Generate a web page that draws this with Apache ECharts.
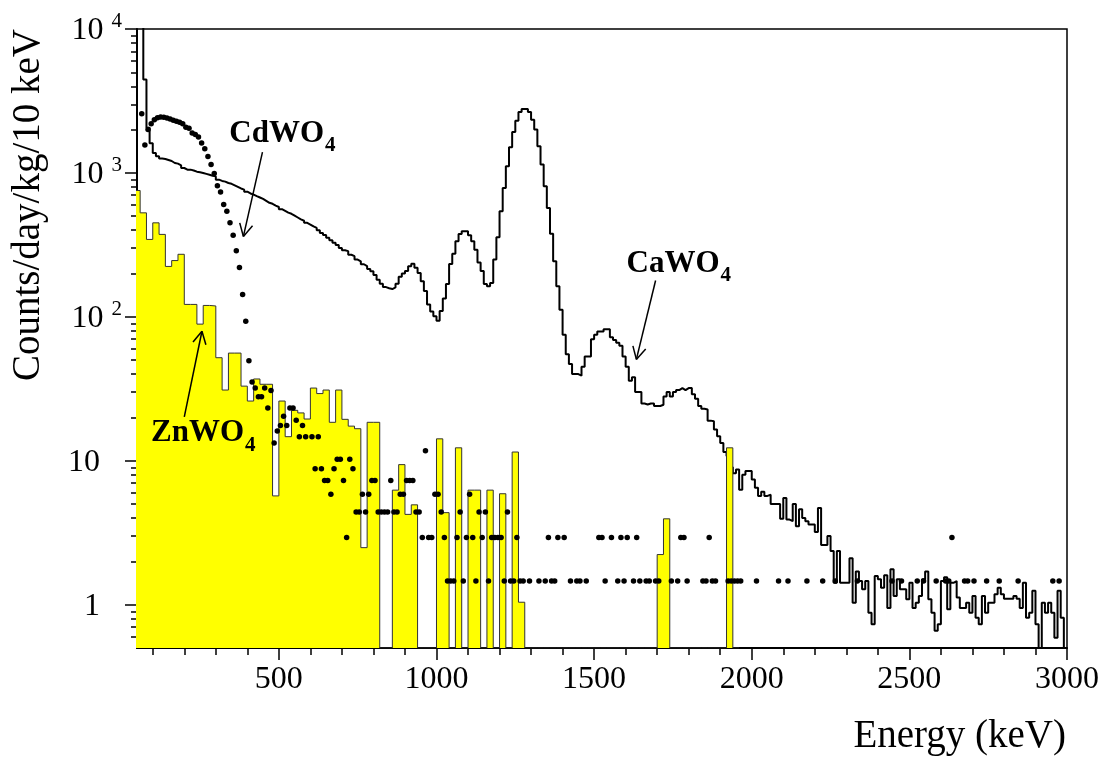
<!DOCTYPE html>
<html><head><meta charset="utf-8">
<script src="https://cdn.jsdelivr.net/npm/echarts@6/dist/echarts.min.js"></script>
<style>html,body{margin:0;padding:0;background:#fff}#c{width:1107px;height:757px}</style>
</head><body><div id="c"></div>
<script>
// ---------------- data ----------------
const xTickLabels = [500, 1000, 1500, 2000, 2500, 3000];
const yTickLabels = [1, 10, 100, 1000, 10000];
const xRange = [50, 3000];
const yRange = [0.5, 10000];

// CaWO4 histogram: 10 keV bins starting at 50 keV (counts/day/kg/10 keV)
const caBinLow = 50, caBinWidth = 10;
const caWO4 = [
  20000, 20000, 4450, 2060, 1610, 1377, 1304, 1260, 1250, 1230,
  1210, 1172, 1160, 1130, 1082, 1054, 1054, 1040, 1020, 1010,
  1000, 985, 970, 955, 946, 898, 880, 870, 851, 840,
  820, 800, 780, 765, 740, 720, 707, 690, 675, 660,
  640, 620, 610, 593, 580, 560, 545, 530, 520, 505,
  490, 475, 465, 450, 438, 425, 415, 400, 383, 370,
  354, 340, 327, 315, 301, 290, 286, 270, 264, 250,
  243, 232, 225, 215, 207, 195, 181, 170, 161, 158,
  156, 160, 170, 190, 200, 208, 225, 234, 219, 202,
  177, 151, 122, 109, 101, 94, 110, 134, 169, 233,
  274, 335, 377, 393, 393, 369, 335, 293, 239, 208,
  169, 163, 172, 250, 357, 541, 785, 1111, 1507, 1923,
  2306, 2650, 2780, 2780, 2650, 2345, 2000, 1530, 1143, 807,
  571, 378, 243, 163, 112, 75, 55, 47, 40, 40,
  39, 45, 53, 53, 70, 75, 79, 79, 82, 82,
  72, 69, 66, 63, 53, 45, 36, 38, 30, 30,
  25, 24.6, 25, 25, 24, 24, 24.5, 28, 30, 28,
  30, 31, 32, 31, 32, 32, 29, 27, 24, 23,
  22.7, 19, 18.8, 16.5, 14.8, 13.3, 11.5, 10.8, 9, 8.2,
  8.7, 6.3, 8.0, 8.5, 8.5, 7.4, 6.5, 5.7, 6.1, 5.7,
  5.8, 5.0, 5.0, 5.0, 3.95, 5.5, 3.9, 3.8, 5.0, 3.5,
  4.6, 4.0, 3.8, 3.6, 3.6, 3.2, 4.7, 2.6, 2.6, 3.0,
  2.36, 1.42, 2.36, 1.42, 1.42, 1.42, 2.1, 1.03, 1.7, 1.46,
  1.28, 1.46, 0.88, 0.73, 1.58, 1.5, 1.31, 1.6, 0.95, 1.76,
  1.15, 1.5, 1.28, 1.28, 1.09, 1.42, 0.95, 1.03, 1.15, 1.5,
  1.7, 1.09, 0.88, 0.66, 0.73, 1.46, 1.55, 0.93, 1.42, 1.46,
  1.12, 0.95, 0.95, 1.03, 0.88, 1.15, 0.81, 0.73, 1.15, 0.88,
  1.03, 1.03, 1.18, 1.31, 1.18, 1.1, 1.1, 1.1, 1.15, 1.1,
  0.95, 1.42, 0.81, 0.88, 1.25, 0.73, 0.3, 1.03, 0.88, 1.03,
  0.88, 0.59, 1.25, 0.81, 0.3
];

// ZnWO4 histogram: 20 keV bins starting at 40 keV (0 = empty bin)
const znBinLow = 40, znBinWidth = 20;
const znWO4 = [
  755, 528, 345, 450, 374, 224, 246, 272,
  122, 122, 89, 120, 119, 52, 31, 56, 56, 33,
  26, 37, 34, 34, 5.7, 26, 14.7, 22.4, 21.5, 19.5,
  32, 29.3, 31, 18.5, 31, 19.4, 17.4, 16.7, 2.49, 18.5,
  18.5, 0, 0, 6.25, 9.4, 4.24, 4.94, 0, 0, 0,
  14.2, 4.36, 0, 12.3, 0, 6.25, 6.25, 0, 6.25, 0,
  5.9, 0, 11.5, 1.04,
  0, 0, 0, 0, 0, 0, 0, 0, 0, 0, 0, 0, 0, 0, 0, 0, 0, 0, 0, 0, 0,
  2.23, 3.95,
  0, 0, 0, 0, 0, 0, 0, 0, 0,
  12.3, 0
];

// CdWO4 points (bin centre energy, counts/day/kg/10 keV)
const cdEnergy = [
  65, 75, 85, 95, 105, 115, 125, 135, 145, 155, 165, 175, 185, 195, 205, 215, 225, 235, 245, 255,
  265, 275, 285, 295, 305, 315, 325, 335, 345, 355, 365, 375, 385, 395, 405, 415, 425, 435, 445, 455,
  465, 475, 485, 495, 505, 515, 525, 535, 545, 555, 565, 575, 585, 605, 615, 625, 635, 645, 655, 665,
  675, 685, 695, 705, 715, 725, 735, 745, 755, 765, 775, 785, 795, 805, 815, 825, 835, 845, 855, 865,
  875, 885, 895, 905, 915, 925, 935, 945, 955, 965, 975, 985, 995, 1005, 1015, 1025, 1035, 1045, 1055, 1065,
  1075, 1085, 1095, 1105, 1115, 1125, 1135, 1145, 1155, 1165, 1175, 1185, 1195, 1205, 1215, 1225, 1235, 1245, 1255, 1265,
  1275, 1295, 1325, 1345, 1355, 1365, 1375, 1385, 1405, 1425, 1445, 1455, 1475, 1515, 1525, 1535, 1555, 1575, 1585, 1595,
  1605, 1625, 1635, 1645, 1665, 1675, 1695, 1705, 1745, 1765, 1775, 1785, 1795, 1845, 1855, 1865, 1875, 1885, 1925, 1935,
  1945, 1955, 1965, 2015, 2085, 2115, 2175, 2225, 2265, 2335, 2445, 2475, 2525, 2545, 2585, 2615, 2625, 2635, 2675, 2685,
  2705, 2745, 2785, 2845, 2955, 2975
];
const cdWO4 = [
  2580, 1563, 2000, 2198, 2344, 2420, 2447, 2435, 2410, 2370, 2318, 2282, 2245, 2198, 2074, 2041, 1895, 1846, 1780, 1616,
  1475, 1303, 1142, 989, 816, 738, 603, 541, 450, 369, 288, 220, 143, 93, 49.6, 35.2, 32, 27.8, 27.8, 32,
  23.3, 30.8, 13.3, 16.1, 17.6, 20.4, 17.6, 23.3, 23.3, 19.1, 14.7, 17.6, 14.7, 14.7, 8.79, 14.7, 8.79, 7.3, 7.3, 5.86,
  8.79, 10.26, 10.26, 7.3, 2.93, 10.26, 8.79, 4.4, 4.4, 5.86, 4.4, 5.86, 7.3, 7.3, 4.4, 4.4, 4.4, 4.4, 7.3, 4.4,
  4.4, 5.86, 5.86, 7.3, 7.3, 7.3, 4.4, 4.4, 2.93, 11.72, 2.93, 2.93, 5.86, 5.86, 4.4, 2.93, 1.46, 1.46, 1.46, 2.93,
  4.4, 1.46, 2.93, 5.86, 2.93, 1.46, 4.4, 2.93, 4.4, 1.46, 2.93, 2.93, 2.93, 2.93, 1.46, 4.4, 1.46, 1.46, 2.93, 1.46,
  1.46, 1.46, 1.46, 1.46, 2.93, 1.46, 1.46, 2.93, 2.93, 1.46, 1.46, 1.46, 1.46, 2.93, 2.93, 1.46, 2.93, 1.46, 2.93, 1.46,
  2.93, 1.46, 2.93, 1.46, 1.46, 1.46, 1.46, 1.46, 1.46, 1.46, 2.93, 2.93, 1.46, 1.46, 1.46, 2.93, 1.46, 1.46, 1.46, 1.46,
  1.46, 1.46, 1.46, 1.46, 1.46, 1.46, 1.46, 1.46, 1.46, 1.46, 1.46, 1.46, 1.46, 1.46, 1.46, 1.46, 1.46, 2.93, 1.46, 1.46,
  1.46, 1.46, 1.46, 1.46, 1.46, 1.46
];

// annotation anchors in data coordinates [energy, value]
const annotations = [
  { label: 'CdWO', sub: '4', text: [343, 1875], tail: [448, 1393], tip: [387.5, 362] },
  { label: 'CaWO', sub: '4', text: [1603, 234], tail: [1695, 179], tip: [1634, 50.6] },
  { label: 'ZnWO', sub: '4', text: [94.4, 15.5], tail: [200, 20.2], tip: [256, 79.4] }
];
const xTitle = 'Energy (keV)';
const yTitle = 'Counts/day/kg/10 keV';

// ---------------- chart ----------------
const FONT = '"Liberation Serif", "Times New Roman", serif';
function hist(lo, w, vals, floor) {
  const pts = vals.map((v, i) => [lo + i * w, Math.max(v, floor)]);
  pts.push([lo + vals.length * w, Math.max(vals[vals.length - 1], floor)]);
  return pts;
}
const logMin = Math.log10(yRange[0]), logMax = Math.log10(yRange[1]);
const yMajorLog = yTickLabels.map(v => Math.log10(v));
const yMinorLog = [];
for (let n = -1; n <= 3; n++) for (let k = 2; k <= 9; k++) {
  const v = k * Math.pow(10, n);
  if (v > yRange[0] && v < yRange[1]) yMinorLog.push(Math.log10(v));
}
const xMinor = [];
for (let v = 100; v < xRange[1]; v += 100) if (v % 500 !== 0) xMinor.push(v);

const chart = echarts.init(document.getElementById('c'), null, { renderer: 'canvas' });
const tickStyle = { color: '#000', width: 1.5 };
chart.setOption({
  animation: false,
  backgroundColor: '#fff',
  textStyle: { fontFamily: FONT, color: '#000' },
  grid: { left: 137, right: 40, top: 29, bottom: 109, show: true, borderColor: '#000', borderWidth: 1.5, backgroundColor: 'transparent' },
  xAxis: [
    {
      type: 'value', min: xRange[0], max: xRange[1], position: 'bottom',
      axisLine: { show: true, onZero: false, lineStyle: { color: '#000', width: 2 } },
      axisTick: { show: true, customValues: xTickLabels, length: 12, lineStyle: tickStyle },
      axisLabel: { customValues: xTickLabels, formatter: v => String(v), fontSize: 32, fontFamily: FONT, color: '#000', margin: 16 },
      splitLine: { show: false }
    },
    {
      type: 'value', min: xRange[0], max: xRange[1], position: 'bottom', offset: 0,
      axisLine: { show: false, onZero: false },
      axisTick: { show: true, customValues: xMinor, length: 7, lineStyle: tickStyle },
      axisLabel: { show: false }, splitLine: { show: false }
    }
  ],
  yAxis: [
    {
      type: 'log', logBase: 10, min: yRange[0], max: yRange[1], position: 'left',
      axisLine: { show: true, onZero: false, lineStyle: { color: '#000', width: 2 } },
      axisTick: { show: false },
      splitLine: { show: false },
      axisLabel: {
        showMinLabel: false, margin: 15, color: '#000',
        formatter: v => {
          const e = Math.round(Math.log10(v));
          if (e >= 2) return '{b|10}{s|' + e + '}';
          return '{b|' + (e === 1 ? '10' : '1') + '}{p| }';
        },
        rich: {
          b: { fontSize: 32, fontFamily: FONT, color: '#000', lineHeight: 36, verticalAlign: 'bottom' },
          s: { fontSize: 21, fontFamily: FONT, color: '#000', lineHeight: 24, verticalAlign: 'top', padding: [0, 0, 0, 8] },
          p: { fontSize: 21, width: 22 }
        }
      }
    },
    {
      type: 'value', min: logMin, max: logMax, position: 'left', offset: 0,
      axisLine: { show: false, onZero: false }, axisLabel: { show: false }, splitLine: { show: false },
      axisTick: { show: true, customValues: yMajorLog, length: 12, lineStyle: tickStyle }
    },
    {
      type: 'value', min: logMin, max: logMax, position: 'left', offset: 0,
      axisLine: { show: false, onZero: false }, axisLabel: { show: false }, splitLine: { show: false },
      axisTick: { show: true, customValues: yMinorLog, length: 6, lineStyle: tickStyle }
    }
  ],
  series: [
    {
      name: 'CaWO4', type: 'line', xAxisIndex: 0, yAxisIndex: 0, z: 2,
      data: hist(caBinLow, caBinWidth, caWO4, 0.3),
      step: 'end', symbol: 'none', clip: true,
      lineStyle: { color: '#000', width: 2 }
    },
    {
      name: 'ZnWO4', type: 'line', xAxisIndex: 0, yAxisIndex: 0, z: 3,
      data: hist(znBinLow, znBinWidth, znWO4, yRange[0]),
      step: 'end', symbol: 'none', clip: true,
      lineStyle: { color: '#333', width: 1 },
      areaStyle: { color: '#ffff00', opacity: 1, origin: yRange[0] }
    },
    {
      name: 'CdWO4', type: 'scatter', xAxisIndex: 0, yAxisIndex: 0, z: 4,
      data: cdEnergy.map((e, i) => [e, cdWO4[i]]),
      symbol: 'circle', symbolSize: 5.5, itemStyle: { color: '#000', opacity: 1 }, clip: true
    }
  ]
});

// ---------------- annotations ----------------
const mctx = document.createElement('canvas').getContext('2d');
function textWidth(t, font) { mctx.font = font; return mctx.measureText(t).width; }
const labelFont = 'bold 31px ' + FONT;
const subFont = 'bold 21px ' + FONT;
const g = [];
function line(x1, y1, x2, y2, w) {
  g.push({ type: 'line', silent: true, z: 10, shape: { x1, y1, x2, y2 }, style: { stroke: '#000', lineWidth: w } });
}
annotations.forEach(a => {
  const p = chart.convertToPixel({ seriesIndex: 0 }, a.text);
  const w = textWidth(a.label, labelFont);
  g.push({ type: 'text', z: 10, x: p[0], y: p[1], style: { text: a.label, font: labelFont, fill: '#000', align: 'left', verticalAlign: 'middle', textAlign: 'left', textVerticalAlign: 'middle' } });
  g.push({ type: 'text', z: 10, x: p[0] + w + 1, y: p[1] + 12, style: { text: a.sub, font: subFont, fill: '#000', align: 'left', verticalAlign: 'middle', textAlign: 'left', textVerticalAlign: 'middle' } });
  const t0 = chart.convertToPixel({ seriesIndex: 0 }, a.tail);
  const t1 = chart.convertToPixel({ seriesIndex: 0 }, a.tip);
  line(t0[0], t0[1], t1[0], t1[1], 1.5);
  const ang = Math.atan2(t0[1] - t1[1], t0[0] - t1[0]);
  const L = 14, th = 28 * Math.PI / 180;
  line(t1[0], t1[1], t1[0] + L * Math.cos(ang + th), t1[1] + L * Math.sin(ang + th), 1.5);
  line(t1[0], t1[1], t1[0] + L * Math.cos(ang - th), t1[1] + L * Math.sin(ang - th), 1.5);
});
g.push({ type: 'text', z: 10, x: 1066, y: 737, style: { text: xTitle, font: '39px ' + FONT, fill: '#000', align: 'right', verticalAlign: 'middle', textAlign: 'right', textVerticalAlign: 'middle' } });
g.push({ type: 'text', z: 10, x: 29, y: 29, rotation: Math.PI / 2, style: { text: yTitle, font: '39px ' + FONT, fill: '#000', align: 'right', verticalAlign: 'middle', textAlign: 'right', textVerticalAlign: 'middle' } });
chart.setOption({ graphic: g });
</script>
</body></html>
